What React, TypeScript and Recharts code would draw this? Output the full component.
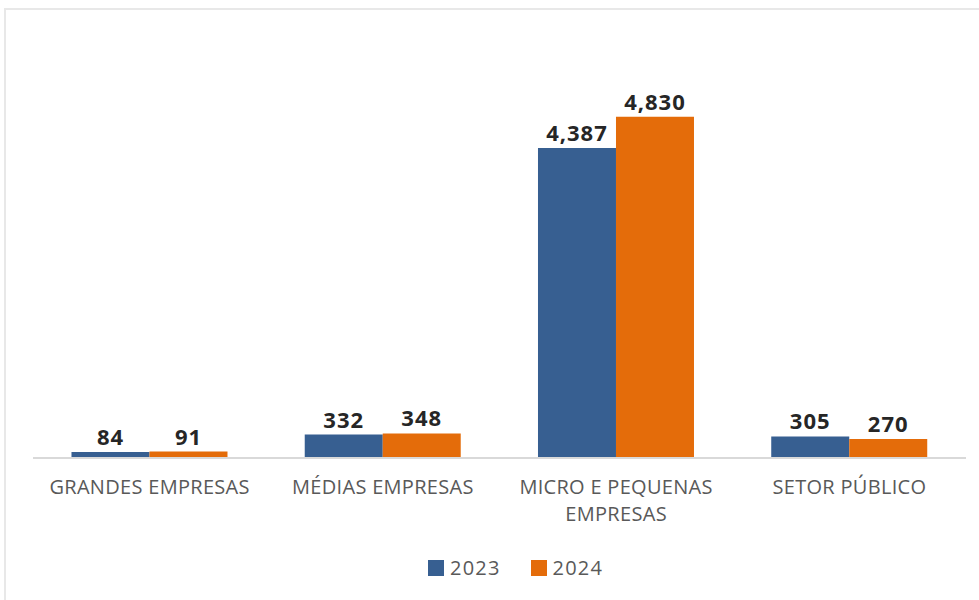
import { BarChart, Bar, XAxis, YAxis, LabelList } from 'recharts';

const categories = ['GRANDES EMPRESAS', 'MÉDIAS EMPRESAS', 'MICRO E PEQUENAS EMPRESAS', 'SETOR PÚBLICO'];
const tickLines: string[][] = [
  ['GRANDES EMPRESAS'],
  ['MÉDIAS EMPRESAS'],
  ['MICRO E PEQUENAS', 'EMPRESAS'],
  ['SETOR PÚBLICO'],
];
const values2023 = [84, 332, 4387, 305];
const values2024 = [91, 348, 4830, 270];
const seriesNames = ['2023', '2024'];

const BLUE = '#375F91';
const ORANGE = '#E46C0A';
const FONT = '"Open Sans", "Noto Sans", sans-serif';

const data = categories.map((name, i) => ({
  name,
  y2023: values2023[i],
  y2024: values2024[i],
}));

function CategoryTick(props: any) {
  const { x, y, payload, index } = props;
  const lines = tickLines[index] ?? [String(payload.value)];
  return (
    <text x={x} y={y} textAnchor="middle" fill="#595959" fontSize={20} letterSpacing={0.3} fontFamily={FONT}>
      {lines.map((l, i) => (
        <tspan key={i} x={x} dy={i === 0 ? 28 : 27}>
          {l}
        </tspan>
      ))}
    </text>
  );
}

function LegendBox() {
  const items = [
    { label: seriesNames[0], color: BLUE },
    { label: seriesNames[1], color: ORANGE },
  ];
  return (
    <div
      style={{
        position: 'absolute',
        left: 428,
        top: 554,
        display: 'flex',
        gap: 30,
        fontFamily: FONT,
        fontSize: 20,
        letterSpacing: 1.2,
        color: '#595959',
      }}
    >
      {items.map((it) => (
        <div key={it.label} style={{ display: 'flex', alignItems: 'center', gap: 6 }}>
          <span style={{ width: 16, height: 16, background: it.color, display: 'inline-block' }} />
          <span>{it.label}</span>
        </div>
      ))}
    </div>
  );
}

const fmt = (v: any) => Number(v).toLocaleString('en-US');

export default function App() {
  return (
    <div style={{ position: 'absolute', left: 0, top: 0, width: 979, height: 600, background: '#fff', overflow: 'hidden' }}>
      <div
        style={{
          position: 'absolute',
          left: 4,
          top: 8,
          width: 990,
          height: 600,
          borderTop: '2px solid #e8e8e8',
          borderLeft: '2px solid #e8e8e8',
        }}
      />
      <div style={{ position: 'absolute', left: 0, top: 0 }}>
        <BarChart
          width={979}
          height={600}
          data={data}
          margin={{ top: 34, right: 13, left: 33, bottom: 52 }}
          barCategoryGap="16.5%"
          barGap={0}
        >
          <XAxis
            dataKey="name"
            axisLine={{ stroke: '#d9d9d9', strokeWidth: 2 }}
            tickLine={false}
            interval={0}
            tick={<CategoryTick />}
            height={90}
          />
          <YAxis hide domain={[0, 6000]} />
          <Bar dataKey="y2023" name="2023" fill={BLUE} isAnimationActive={false}>
            <LabelList dataKey="y2023" position="top" offset={7} formatter={fmt} fill="#262626" fontSize={22} fontWeight="bold" fontFamily={FONT} letterSpacing={1} />
          </Bar>
          <Bar dataKey="y2024" name="2024" fill={ORANGE} isAnimationActive={false}>
            <LabelList dataKey="y2024" position="top" offset={7} formatter={fmt} fill="#262626" fontSize={22} fontWeight="bold" fontFamily={FONT} letterSpacing={1} />
          </Bar>
        </BarChart>
      </div>
      <LegendBox />
    </div>
  );
}
